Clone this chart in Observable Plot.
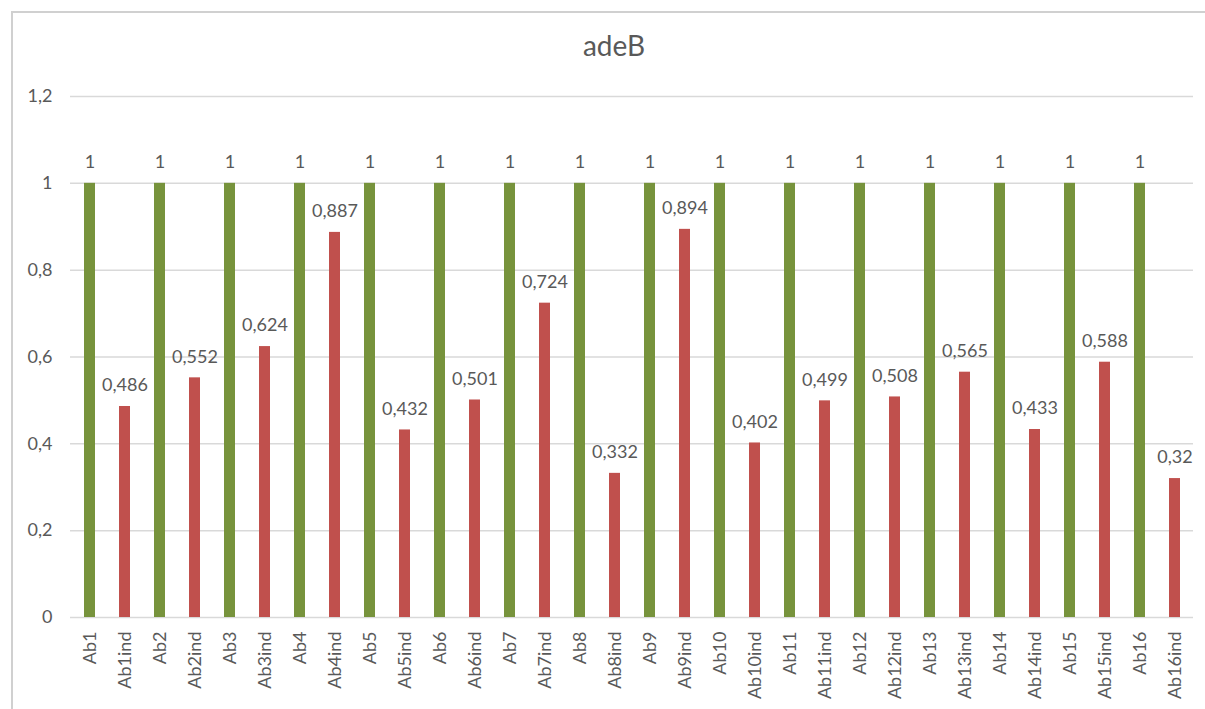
<!DOCTYPE html>
<html>
<head>
<meta charset="utf-8">
<script src="https://cdn.jsdelivr.net/npm/d3@7"></script>
<script src="https://cdn.jsdelivr.net/npm/@observablehq/plot@0.6"></script>
<style>
  html, body { margin: 0; padding: 0; background: #fff; }
  #wrap { position: relative; width: 1205px; height: 709px; overflow: hidden; padding-top: 70px; box-sizing: border-box; }
  #frame { position: absolute; left: 11px; top: 11px; width: 1300px; height: 800px;
           border-left: 2px solid #d0d0d0; border-top: 2px solid #d0d0d0; box-sizing: border-box; }
  #title { position: absolute; left: 11px; top: 27px; width: 1206px; text-align: center;
           font-family: Lato, sans-serif; font-size: 28px; color: #595959; line-height: 36px; }
  #chart { position: relative; }
</style>
</head>
<body>
<div id="wrap">
  <div id="frame"></div>
  <div id="title">adeB</div>
  <div id="chart"></div>
</div>
<script>
// Strains, untreated and induced
const strains = ["Ab1","Ab2","Ab3","Ab4","Ab5","Ab6","Ab7","Ab8",
                 "Ab9","Ab10","Ab11","Ab12","Ab13","Ab14","Ab15","Ab16"];
const baseValues = [1,1,1,1,1,1,1,1,1,1,1,1,1,1,1,1];
const indValues = [0.486,0.552,0.624,0.887,0.432,0.501,0.724,0.332,
                   0.894,0.402,0.499,0.508,0.565,0.433,0.588,0.32];
const yTicks = [0, 0.2, 0.4, 0.6, 0.8, 1, 1.2];

const green = "#77933C";
const red = "#C0504D";
const textColor = "#595959";

const rows = [];
strains.forEach((s, i) => {
  rows.push({label: s, value: baseValues[i], color: green});
  rows.push({label: s + "ind", value: indValues[i], color: red});
});
const order = rows.map(d => d.label);
const comma = v => String(v).replace(".", ",");

const chart = Plot.plot({
  width: 1205,
  height: 639,
  marginLeft: 70,
  marginRight: 12,
  marginTop: 26,
  marginBottom: 92,
  style: {fontFamily: "Lato, sans-serif", fontSize: "18px", color: textColor, background: "transparent"},
  x: {domain: order, paddingInner: 0.687, paddingOuter: 0.3435, label: null},
  y: {domain: [0, 1.2], label: null},
  marks: [
    Plot.ruleY(yTicks, {stroke: "#d9d9d9", strokeWidth: 1.5}),
    Plot.barY(rows, {x: "label", y: "value", fill: "color"}),
    Plot.text(rows, {x: "label", y: "value", text: d => comma(d.value), dy: -21, fill: textColor}),
    Plot.axisY({ticks: yTicks, tickSize: 0, tickPadding: 18, tickFormat: comma}),
    Plot.axisX({tickSize: 0, tickPadding: 14, tickRotate: -90})
  ]
});
document.getElementById("chart").appendChild(chart);
</script>
</body>
</html>
